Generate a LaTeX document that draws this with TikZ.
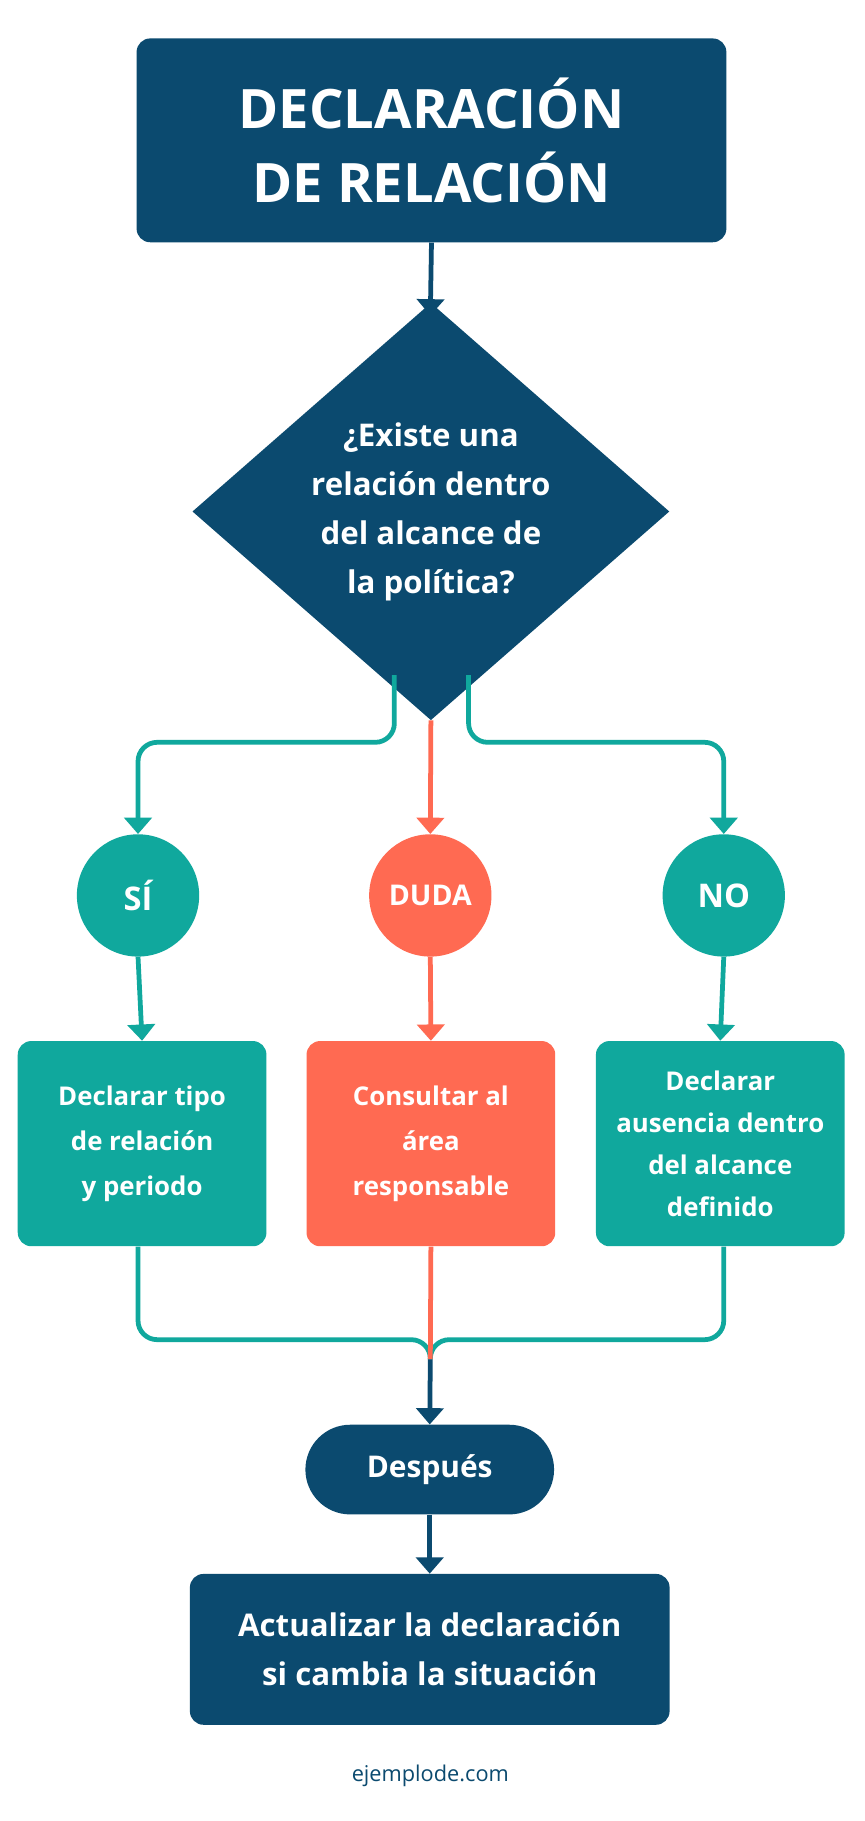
\documentclass[tikz,border=0pt]{standalone}
\usepackage{fontspec}
\setmainfont{Open Sans}
\usetikzlibrary{shapes.geometric,arrows.meta}
\definecolor{navy}{HTML}{0B4A6F}
\definecolor{teal}{HTML}{10A89D}
\definecolor{coral}{HTML}{FF6A52}
\begin{document}
\begin{tikzpicture}[x=0.03cm,y=-0.03cm,
  tx/.style={text=white,font=\bfseries,align=center},
  box/.style={tx,rounded corners=10pt,inner sep=0pt},
  ln/.style={line width=3.5pt,rounded corners=14pt},
  ar/.style={ln,-{Triangle[width=20pt,length=12pt]}},
  circ/.style={circle,tx,minimum size=90pt,inner sep=0pt,font=\bfseries\fontsize{24}{28}\selectfont}]
\useasboundingbox (0,0) rectangle (745,1570);
\fill[white] (0,0) rectangle (745,1570);
\node[box,fill=navy,minimum width=434pt,minimum height=150pt,font=\bfseries\fontsize{40}{55}\selectfont] (t) at (372,121) {DECLARACIÓN\\DE RELACIÓN};
\node[diamond,fill=navy,tx,minimum width=351pt,minimum height=282pt,inner sep=0pt,font=\bfseries\fontsize{23}{36}\selectfont] (q) at (371.5,441) {¿Existe una\\relación dentro\\del alcance de\\la política?};
\node[circ,fill=teal] (si) at (119,772) {SÍ};
\node[circ,fill=coral,font=\bfseries\fontsize{21}{26}\selectfont] (du) at (371,772) {DUDA};
\node[circ,fill=teal] (no) at (624,772) {NO};
\tikzset{sb/.style={box,minimum width=183pt,minimum height=151pt,font=\bfseries\fontsize{19}{33}\selectfont}}
\node[sb,fill=teal] (b1) at (122.5,986) {Declarar tipo\\de relación\\y periodo};
\node[sb,fill=coral] (b2) at (371.5,986) {Consultar al\\área\\responsable};
\node[sb,fill=teal,font=\bfseries\fontsize{19}{31}\selectfont] (b3) at (621,986) {Declarar\\ausencia dentro\\del alcance\\definido};
\node[box,fill=navy,rounded corners=33pt,minimum width=183pt,minimum height=66pt,font=\bfseries\fontsize{22}{26}\selectfont] (d) at (370.5,1267) {Después};
\node[box,fill=navy,minimum width=353pt,minimum height=111pt,font=\bfseries\fontsize{23}{36}\selectfont] (f) at (370.5,1422) {Actualizar la declaración\\si cambia la situación};
\node[text=navy,font=\fontsize{16}{20}\selectfont] (w) at (371,1531) {ejemplode.com};
\coordinate (m) at (371,1172);
% arrows
\draw[ar,navy] (t.south) -- (371,272);
\draw[ar,teal] (340,582) -- (340,640) -- (119,640) -- (si.north);
\draw[ar,coral] (q.south) -- (du.north);
\draw[ar,teal] (404,582) -- (404,640) -- (624,640) -- (no.north);
\draw[ar,teal] (si.south) -- (b1.north);
\draw[ar,coral] (du.south) -- (b2.north);
\draw[ar,teal] (no.south) -- (b3.north);
\draw[ln,teal] (b1.south -| si) -- (119,1155) -- (371,1155) -- (m);
\draw[ln,teal] (b3.south -| no) -- (624,1155) -- (371,1155) -- (m);
\draw[ln,coral] (b2.south) -- (m);
\draw[ar,navy] (m) -- (d.north);
\draw[ar,navy] (d.south) -- (f.north);
\end{tikzpicture}
\end{document}
